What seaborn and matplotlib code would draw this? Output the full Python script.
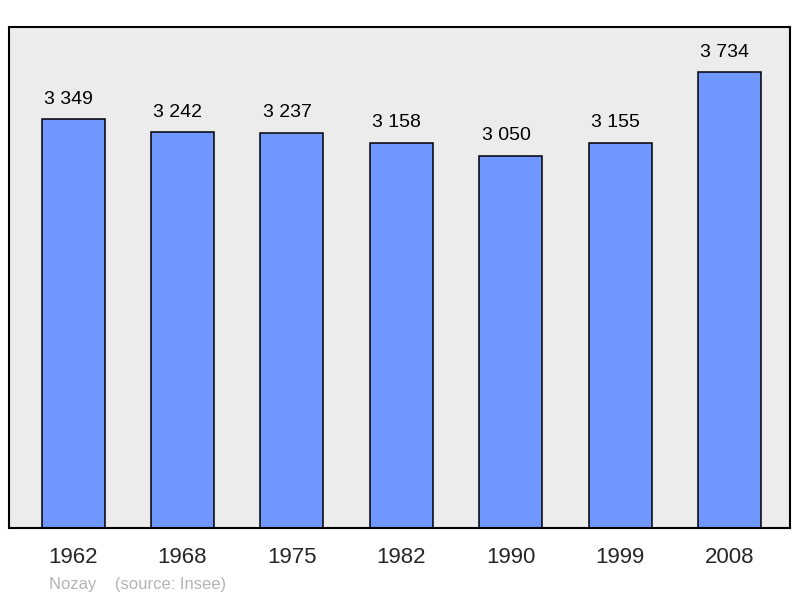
import numpy as np
import pandas as pd
import seaborn as sns
import matplotlib.pyplot as plt

# population data
years = ["1962", "1968", "1975", "1982", "1990", "1999", "2008"]
population = [3349, 3242, 3237, 3158, 3050, 3155, 3734]
labels = ["3 349", "3 242", "3 237", "3 158", "3 050", "3 155", "3 734"]

df = pd.DataFrame({"year": years, "pop": population})

sns.set_style("white")
plt.rcParams['font.family'] = ['Liberation Sans', 'DejaVu Sans']

fig = plt.figure(figsize=(8, 5.98), dpi=100)
ax = fig.add_axes([0.01125, 0.117, 0.97625, 0.838])
ax.set_facecolor("#ececec")

sns.barplot(data=df, x="year", y="pop", color="#7096ff", width=0.575,
            edgecolor="black", linewidth=1.1, saturation=1, ax=ax)

for i, (v, lab) in enumerate(zip(population, labels)):
    ax.annotate(lab, (i, v), xytext=(-3.5, 8.5), textcoords="offset points",
                ha="center", va="bottom", fontsize=14, color="black")

ax.set_xlim(-0.585, 6.55)
ax.set_ylim(0, 4107)
ax.set_xlabel("")
ax.set_ylabel("")
ax.set_yticks([])
ax.tick_params(axis="x", length=0, labelsize=16, pad=14)
for s in ax.spines.values():
    s.set_visible(True)
    s.set_color("black")
    s.set_linewidth(1.5)

fig.text(0.061, 0.015, "Nozay    (source: Insee)", fontsize=12, color="#b4b4b4")

fig.savefig("out.png", dpi=100)
